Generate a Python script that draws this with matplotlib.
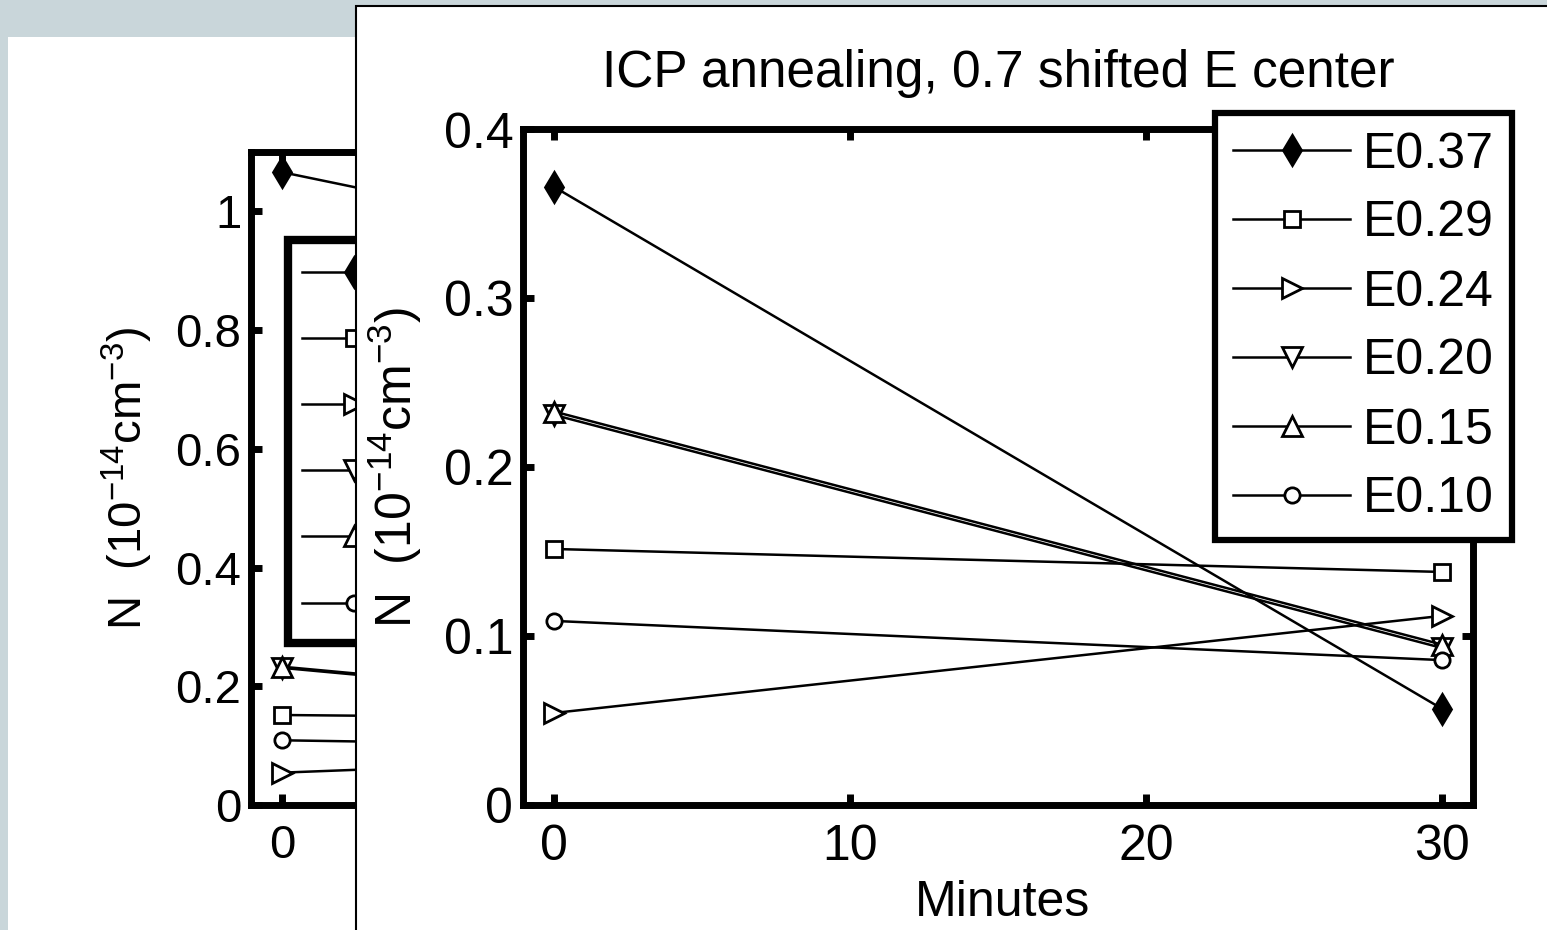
import matplotlib
matplotlib.use('Agg')
import matplotlib.pyplot as plt
from matplotlib.patches import Rectangle

# Data
minutes = [0, 30]
labels = ['E0.37', 'E0.29', 'E0.24', 'E0.20', 'E0.15', 'E0.10']
E037 = [1.066, 0.757]   # unshifted, the front plot shows it minus 0.7
E029 = [0.1516, 0.138]
E024 = [0.0545, 0.112]
E020 = [0.231, 0.093]
E015 = [0.233, 0.095]
E010 = [0.109, 0.0858]
shift = 0.7

bg_yticks = [0, 0.2, 0.4, 0.6, 0.8, 1.0]
bg_yticklabels = ['0', '0.2', '0.4', '0.6', '0.8', '1']
fg_yticks = [0, 0.1, 0.2, 0.3, 0.4]
fg_yticklabels = ['0', '0.1', '0.2', '0.3', '0.4']
xticks = [0, 10, 20, 30]
fg_xticklabels = ['0', '10', '20', '30']
bg_xticklabels = ['0', '', '', '']   # the rest is hidden behind the front window

# Styles
markers = ['d', 's', '>', 'v', '^', 'o']
msizes = [15, 11, 14, 14, 14, 11]
ylabel = r'N  (10$^{-14}$cm$^{-3}$)'

plt.rcParams['font.family'] = ['Liberation Sans', 'DejaVu Sans']
plt.rcParams['mathtext.fontset'] = 'custom'
plt.rcParams['mathtext.rm'] = 'Liberation Sans'
plt.rcParams['mathtext.it'] = 'Liberation Sans'
plt.rcParams['mathtext.bf'] = 'Liberation Sans'

W, H = 1547, 930
fig = plt.figure(figsize=(W / 100, H / 100), dpi=100, facecolor='#c9d6da')


def px_box(left, top, right, bottom):
    # pixel box -> figure fraction [l, b, w, h]
    return [left / W, 1 - bottom / H, (right - left) / W, (bottom - top) / H]


def style_axes(ax, fs):
    for s in ax.spines.values():
        s.set_linewidth(5)
    ax.tick_params(direction='in', length=8, width=5, top=True, right=True,
                   labelsize=fs, pad=7, colors='black')
    ax.tick_params(axis='x', pad=14)


def draw_series(ax, e037):
    series = [e037, E029, E024, E020, E015, E010]
    for vals, lab, m, ms in zip(series, labels, markers, msizes):
        mfc = 'black' if m == 'd' else 'white'
        ax.plot(minutes, vals, '-', marker=m, markersize=ms, color='black',
                mfc=mfc, mec='black', mew=2, lw=1.8, label=lab)


# background window panel
fig.add_artist(Rectangle((8 / W, -0.01), 1, 1.01 - 37 / H, transform=fig.transFigure,
                         facecolor='white', edgecolor='none', zorder=-5))

# Background figure (partly hidden)
ax1 = fig.add_axes(px_box(251, 152, 1201, 805), zorder=1)
draw_series(ax1, E037)
ax1.set_xlim(-1.05, 31.05)
ax1.set_ylim(0, 1.1)
ax1.set_xticks(xticks)
ax1.set_xticklabels(bg_xticklabels)
ax1.set_yticks(bg_yticks)
ax1.set_yticklabels(bg_yticklabels)
style_axes(ax1, 34)
ax1.set_ylabel(ylabel, fontsize=34)
ax1.yaxis.set_label_coords(-0.101, 0.5)
h1, _ = ax1.get_legend_handles_labels()
# legend texts of the back window sit behind the front window
leg1 = ax1.legend(h1, [''] * len(h1), loc='upper left',
                  bbox_to_anchor=(288 / W, 1 - 240 / H),
                  bbox_transform=fig.transFigure, borderaxespad=0, fontsize=34,
                  fancybox=False, edgecolor='black', framealpha=1,
                  handlelength=2.2, handletextpad=0.26, labelspacing=0.47,
                  borderpad=0.3, numpoints=1)
leg1.get_frame().set_linewidth(6)

# Front window
fig.add_artist(Rectangle((355.5 / W, -0.05), 1, 1.05 - 6 / H, transform=fig.transFigure,
                         facecolor='white', edgecolor='black', lw=1.5, zorder=2))

ax2 = fig.add_axes(px_box(523, 129.5, 1473, 805), zorder=3)
draw_series(ax2, [v - shift for v in E037])
ax2.set_xlim(-1.05, 31.05)
ax2.set_ylim(0, 0.4)
ax2.set_xticks(xticks)
ax2.set_xticklabels(fg_xticklabels)
ax2.set_yticks(fg_yticks)
ax2.set_yticklabels(fg_yticklabels)
style_axes(ax2, 36)
ax2.set_title('ICP annealing, 0.7 shifted E center', fontsize=37, pad=30.6)
ax2.set_xlabel('Minutes', fontsize=36)
ax2.xaxis.set_label_coords(0.505, -0.111)
ax2.set_ylabel(ylabel, fontsize=36)
ax2.yaxis.set_label_coords(-0.1047, 0.5)
leg2 = ax2.legend(loc='upper left', bbox_to_anchor=(1215 / W, 1 - 113.5 / H),
                  bbox_transform=fig.transFigure, borderaxespad=0, fontsize=36,
                  fancybox=False, edgecolor='black', framealpha=1,
                  handlelength=2.34, handletextpad=0.26, labelspacing=0.46,
                  borderpad=0.36, numpoints=1)
leg2.get_frame().set_linewidth(4.5)

fig.savefig('out.png', dpi=100)
